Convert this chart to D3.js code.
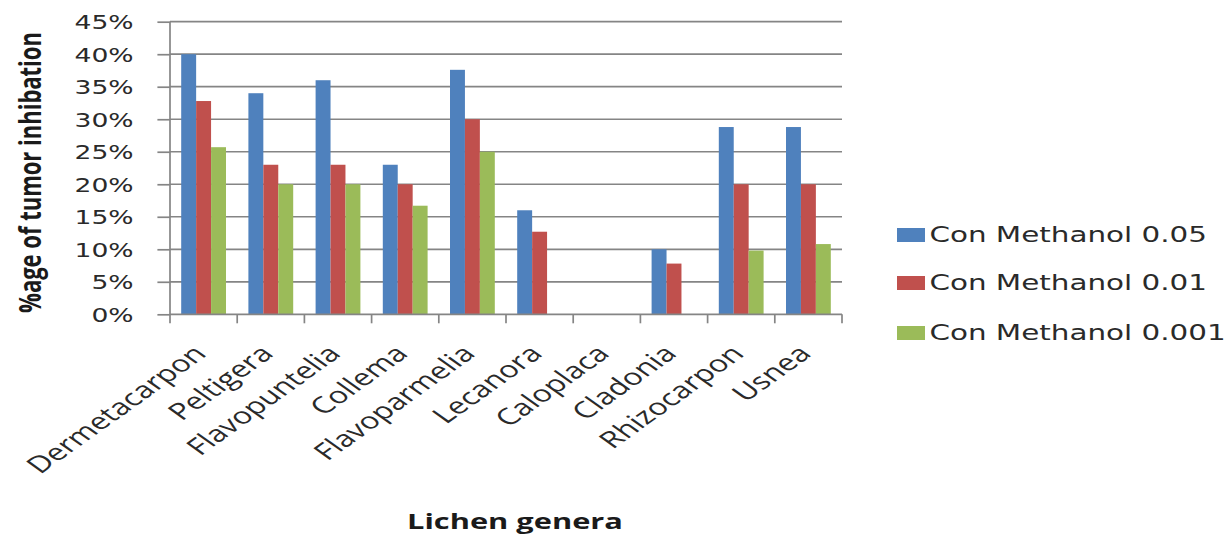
<!DOCTYPE html>
<html>
<head>
<meta charset="utf-8">
<script src="https://cdn.jsdelivr.net/npm/d3@7"></script>
<style>
  html, body { margin: 0; padding: 0; background: #fff; }
  svg { display: block; }
</style>
</head>
<body>
<svg id="chart" width="1228" height="535"></svg>
<script>
// ---- data ----
const categories = ["Dermetacarpon", "Peltigera", "Flavopuntelia", "Collema", "Flavoparmelia",
                    "Lecanora", "Caloplaca", "Cladonia", "Rhizocarpon", "Usnea"];
const seriesNames = ["Con Methanol 0.05", "Con Methanol 0.01", "Con Methanol 0.001"];
const conc005  = [40, 34, 36, 23, 37.6, 16, 0, 10, 28.8, 28.8];
const conc001  = [32.8, 23, 23, 20, 30, 12.7, 0, 7.8, 20, 20];
const conc0001 = [25.7, 20, 20, 16.7, 25, 0, 0, 0, 9.8, 10.8];
const yTicks = [0, 5, 10, 15, 20, 25, 30, 35, 40, 45];
const colors = ["#4F81BD", "#C0504D", "#9BBB59"];
const yTitle = "%age of tumor inhibation";
const xTitle = "Lichen genera";

const seriesValues = [conc005, conc001, conc0001];

// ---- layout (drawn in an unstretched frame, then stretched horizontally) ----
const SX = 1.4;
const svg = d3.select("#chart");
svg.append("rect").attr("width", 1228).attr("height", 535).attr("fill", "#fff");
const root = svg.append("g").attr("transform", `scale(${SX},1)`);

const plotLeft = 170 / SX, plotRight = 842 / SX, plotTop = 21.7, plotBottom = 314.3;

const x0 = d3.scaleBand().domain(categories).range([plotLeft, plotRight]).padding(0);
const bw = x0.bandwidth();
const barW = bw / 4.5;
const x1 = d3.scaleBand().domain(d3.range(3)).range([barW * 0.75, barW * 3.75]).padding(0);
const y = d3.scaleLinear().domain([0, 45]).range([plotBottom, plotTop]);

const gridColor = "#858585";

// gridlines
root.append("g").selectAll("line").data(yTicks.slice(1)).join("line")
  .attr("x1", plotLeft).attr("x2", plotRight)
  .attr("y1", d => y(d)).attr("y2", d => y(d))
  .attr("stroke", gridColor).attr("stroke-width", 1.7)
  .attr("vector-effect", "non-scaling-stroke");

// bars
const groups = root.append("g").selectAll("g").data(categories).join("g")
  .attr("transform", d => `translate(${x0(d)},0)`);
groups.selectAll("rect").data((d, i) => seriesValues.map((s, k) => ({k, v: s[i]})))
  .join("rect")
  .attr("x", d => x1(d.k))
  .attr("width", x1.bandwidth())
  .attr("y", d => y(d.v))
  .attr("height", d => y(0) - y(d.v))
  .attr("fill", d => colors[d.k]);

// y axis
const yAxis = d3.axisLeft(y).tickValues(yTicks).tickFormat(d => d + "%").tickSize(9).tickPadding(17);
const gy = root.append("g").attr("transform", `translate(${plotLeft},0)`).call(yAxis);
gy.select(".domain").attr("stroke", gridColor).attr("stroke-width", 1.7).attr("vector-effect", "non-scaling-stroke")
  .attr("d", `M0,${plotTop}V${plotBottom}`);
gy.selectAll(".tick line").attr("stroke", gridColor).attr("stroke-width", 1.7).attr("vector-effect", "non-scaling-stroke");
gy.selectAll(".tick text")
  .attr("font-family", "DejaVu Sans").attr("font-size", 19).attr("fill", "#2a2a2a")
  .attr("dy", "0.36em");

// x axis (ticks between categories)
const xAxisLine = root.append("g");
xAxisLine.append("line").attr("x1", plotLeft).attr("x2", plotRight).attr("y1", plotBottom).attr("y2", plotBottom)
  .attr("stroke", gridColor).attr("stroke-width", 1.7).attr("vector-effect", "non-scaling-stroke");
const boundaries = categories.map(c => x0(c)).concat([plotRight]);
xAxisLine.selectAll("line.tk").data(boundaries).join("line").attr("class", "tk")
  .attr("x1", d => d).attr("x2", d => d).attr("y1", plotBottom).attr("y2", plotBottom + 9)
  .attr("stroke", gridColor).attr("stroke-width", 1.7).attr("vector-effect", "non-scaling-stroke");

// x labels
root.append("g").selectAll("text").data(categories).join("text")
  .attr("transform", d => `translate(${x0(d) + bw / 2 + 3},355) rotate(-45)`)
  .attr("text-anchor", "end")
  .attr("font-family", "Open Sans").attr("font-size", 23).attr("fill", "#2a2a2a")
  .text(d => d);

// axis titles
root.append("text")
  .attr("transform", `translate(${30 / SX},172.5) rotate(-90)`)
  .attr("text-anchor", "middle").attr("dy", "0.35em")
  .attr("font-family", "Open Sans").attr("font-weight", "bold").attr("font-size", 22).attr("fill", "#1a1a1a")
  .text(yTitle);
root.append("text")
  .attr("x", 515 / SX).attr("y", 529)
  .attr("text-anchor", "middle")
  .attr("font-family", "Open Sans").attr("font-weight", "bold").attr("font-size", 22).attr("fill", "#1a1a1a")
  .text(xTitle);

// legend
const legendBaselines = [242, 290, 340];
const lg = root.append("g").selectAll("g").data(seriesNames).join("g")
  .attr("transform", (d, i) => `translate(${897 / SX},${legendBaselines[i]})`);
lg.append("rect").attr("x", 0).attr("y", -14).attr("width", 20).attr("height", 14)
  .attr("fill", (d, i) => colors[i]);
lg.append("text").attr("x", 31 / SX + 1).attr("y", 0)
  .attr("font-family", "DejaVu Sans").attr("font-size", 21).attr("fill", "#2a2a2a")
  .text(d => d);
</script>
</body>
</html>
